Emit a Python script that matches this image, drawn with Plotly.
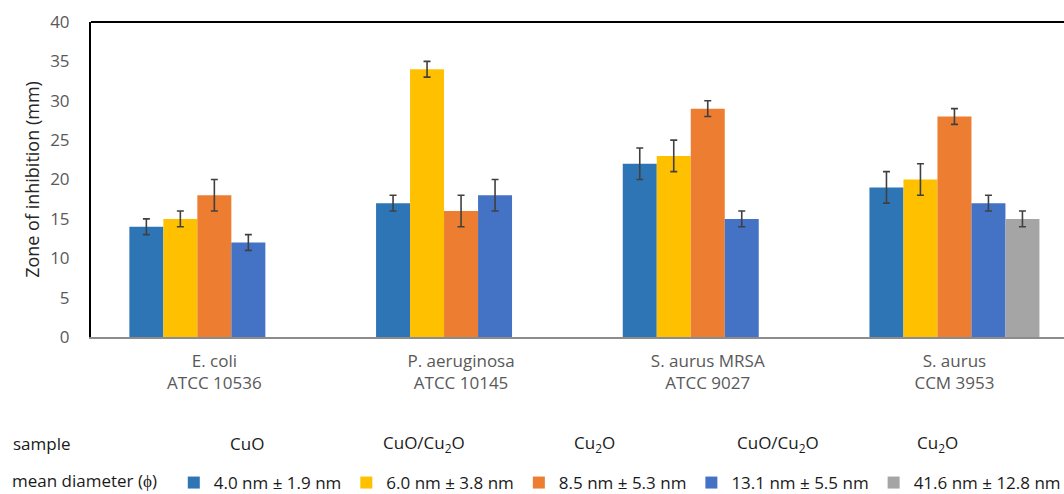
import plotly.graph_objects as go

categories = ["E. coli<br>ATCC 10536", "P. aeruginosa<br>ATCC 10145",
              "S. aurus MRSA<br>ATCC 9027", "S. aurus<br>CCM 3953"]
series_names = ["4.0 nm ± 1.9 nm", "6.0 nm ± 3.8 nm", "8.5 nm ± 5.3 nm",
                "13.1 nm ± 5.5 nm", "41.6 nm ± 12.8 nm"]
sample_labels = ["CuO", "CuO/Cu<sub>2</sub>O", "Cu<sub>2</sub>O",
                 "CuO/Cu<sub>2</sub>O", "Cu<sub>2</sub>O"]
values = [
    [14, 17, 22, 19],
    [15, 34, 23, 20],
    [18, 16, 29, 28],
    [12, 18, 15, 17],
    [None, None, None, 15],
]
errors = [
    [1, 1, 2, 2],
    [1, 1, 2, 2],
    [2, 2, 1, 1],
    [1, 2, 1, 1],
    [None, None, None, 1],
]
colors = ["#2E75B6", "#FFC000", "#ED7D31", "#4472C4", "#A5A5A5"]

FONT = "Open Sans"
fig = go.Figure()
for name, vals, errs, col in zip(series_names, values, errors, colors):
    fig.add_trace(go.Bar(
        x=categories, y=vals, name=name,
        marker=dict(color=col, line=dict(width=0)),
        error_y=dict(type="data", array=errs, visible=True,
                     color="#404040", thickness=1.6, width=3.5),
    ))

W, H = 1064, 494
L, T, B = 91, 22, 157
plot_w = W - L
plot_h = H - T - B

def px_to_paper(px):
    return (px - L) / plot_w

def py_to_paper(py):
    return -(py - (H - B)) / plot_h

annotations = [dict(text="sample", x=px_to_paper(11), y=py_to_paper(443),
                    xref="paper", yref="paper", xanchor="left", yanchor="middle",
                    showarrow=False, font=dict(family=FONT, size=17, color="#1a1a1a"))]
sample_x = [247, 424, 594, 778, 937]
for lab, sx in zip(sample_labels, sample_x):
    annotations.append(dict(text=lab, x=px_to_paper(sx), y=py_to_paper(443),
                            xref="paper", yref="paper", xanchor="center", yanchor="middle",
                            showarrow=False, font=dict(family=FONT, size=17, color="#1a1a1a")))

fig.update_layout(
    width=W, height=H,
    margin=dict(l=L, r=0, t=T, b=B),
    paper_bgcolor="white", plot_bgcolor="white",
    barmode="group", bargap=0.311, bargroupgap=0,
    font=dict(family=FONT, size=17, color="#595959"),
    xaxis=dict(range=[-0.5, -0.5 + plot_w / 246.7], showgrid=False,
               showline=True, linecolor="#8c8c8c", linewidth=1.5,
               ticks="", ticklabelstandoff=8,
               tickfont=dict(family=FONT, size=17, color="#595959")),
    yaxis=dict(range=[0, 40], dtick=5, showgrid=False, zeroline=False,
               showline=True, linecolor="black", linewidth=2,
               ticks="", ticklabelstandoff=16,
               tickfont=dict(family=FONT, size=17, color="#595959"),
               title=dict(text="Zone of inhibition (mm)", standoff=6,
                          font=dict(family=FONT, size=18, color="#262626"))),
    showlegend=True,
    legend=dict(orientation="h", xref="container", x=10 / W, xanchor="left",
                yref="container", y=(H - 465) / H, yanchor="top",
                font=dict(family=FONT, size=17, color="#1a1a1a"),
                title=dict(text="mean diameter (ϕ)  ", side="left",
                           font=dict(family=FONT, size=17, color="#1a1a1a")),
                itemwidth=30, traceorder="normal"),
    shapes=[dict(type="line", xref="paper", yref="paper", x0=0, x1=1.02, y0=1, y1=1,
                 line=dict(color="black", width=2))],
    annotations=annotations,
)

fig.write_html("out.html")
